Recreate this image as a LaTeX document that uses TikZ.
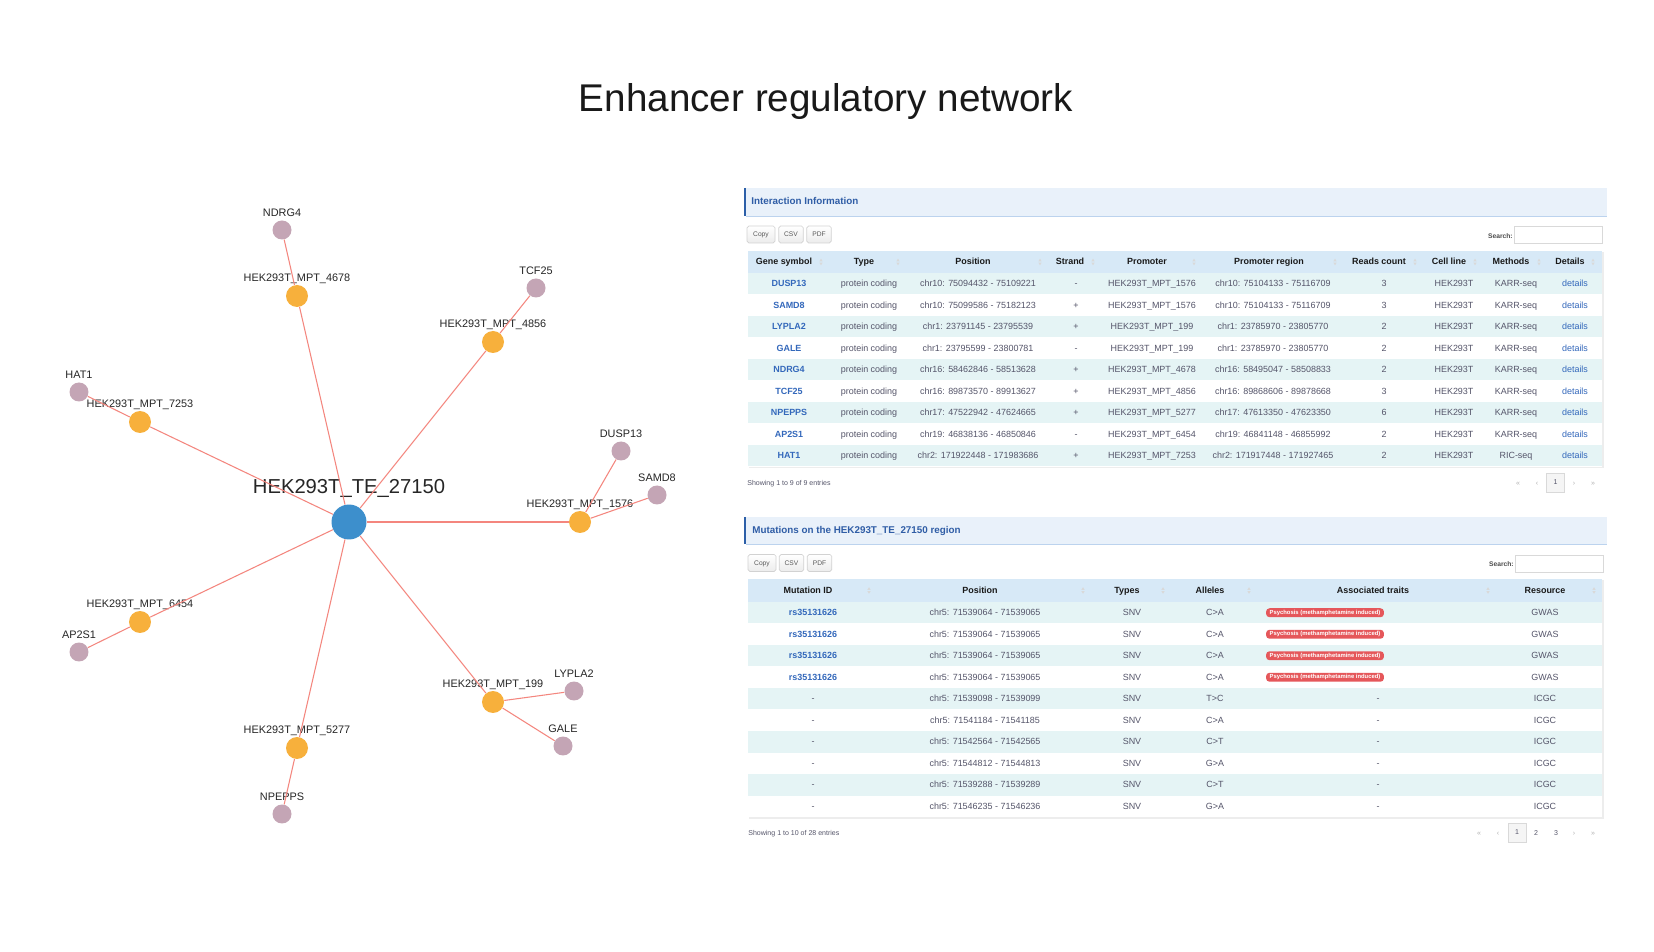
\documentclass[tikz,border=0pt]{standalone}
\usepackage{fontspec}
\setmainfont{Liberation Sans}
\usetikzlibrary{positioning}

\definecolor{hubblue}{HTML}{3D8FCC}
\definecolor{mptorange}{HTML}{F7B03C}
\definecolor{genemauve}{HTML}{C4A5B5}
\definecolor{edgered}{HTML}{F4867E}
\definecolor{barbg}{HTML}{E9F1FA}
\definecolor{barline}{HTML}{2C5FA8}
\definecolor{barrule}{HTML}{BCD3EE}
\definecolor{titleblue}{HTML}{2F5DA6}
\definecolor{headbg}{HTML}{D7E9F7}
\definecolor{stripe}{HTML}{E5F4F5}
\definecolor{linkblue}{HTML}{3368BB}
\definecolor{celltext}{HTML}{55556A}
\definecolor{badgered}{HTML}{E5575A}

\newcommand{\fsz}[1]{\fontsize{#1}{#1}\selectfont}

\tikzset{
  hub/.style={circle, fill=hubblue, minimum size=0.70cm, inner sep=0},
  mpt/.style={circle, fill=mptorange, minimum size=0.44cm, inner sep=0},
  gene/.style={circle, fill=genemauve, minimum size=0.38cm, inner sep=0},
  netlbl/.style={font=\fsz{6.2}, text=black!85, inner sep=0},
  link/.style={draw=edgered, line width=0.6pt},
  paneltitle/.style={anchor=west, font=\bfseries\fsz{5.6}, text=titleblue, inner sep=0,
    text height=4pt, text depth=0.6pt},
  btn/.style={draw=gray!35, top color=white, bottom color=gray!15, rounded corners=1pt,
    minimum height=0.34cm, inner sep=0, font=\fsz{3.8}, text=gray!70!black,
    text height=2.8pt, text depth=0.3pt},
  searchlbl/.style={anchor=east, font=\bfseries\fsz{3.8}, text=black!70, inner sep=0,
    text height=2.8pt, text depth=0.3pt},
  searchbox/.style={draw=gray!30, minimum width=1.76cm, minimum height=0.33cm, inner sep=0},
  colhead/.style={font=\bfseries\fsz{5.1}, text=black!90, inner sep=0,
    text height=3.7pt, text depth=0.4pt},
  cell/.style={font=\fsz{5.1}, text=celltext, inner sep=0, text height=3.7pt, text depth=0.4pt},
  cellink/.style={cell, font=\bfseries\fsz{5.1}, text=linkblue},
  info/.style={anchor=west, font=\fsz{4}, text=celltext, inner sep=0,
    text height=2.9pt, text depth=0.4pt},
  pg/.style={font=\fsz{4}, text=gray!60, inner sep=0, text height=2.9pt, text depth=0.4pt},
  pgbox/.style={draw=gray!30, fill=gray!8, minimum width=0.36cm, minimum height=0.38cm,
    inner sep=0, font=\fsz{4}, text=celltext, text height=2.9pt, text depth=0.4pt},
  badge/.style={fill=badgered, rounded corners=2pt, text=white, font=\bfseries\fsz{3.35},
    inner xsep=2pt, inner ysep=0, minimum height=0.18cm, text height=2.4pt, text depth=0.7pt},
  sorticon/.pic={
    \fill[gray!30] (-1.6,-0.7) -- (1.6,-0.7) -- (0,-3.3) -- cycle;
    \fill[gray!30] (-1.6,0.7) -- (1.6,0.7) -- (0,3.3) -- cycle;
  }
}

\begin{document}
\begin{tikzpicture}[x=0.02cm, y=-0.02cm]
  \fill[white] (0,0) rectangle (1654,952);
  \useasboundingbox (0,0) rectangle (1654,952);

  \node[font=\fsz{22}, text=black!90] (title) at (826,102) {Enhancer regulatory network};

  % network
  \node[hub] (te) at (349,522) {};
  \node[netlbl, font=\fsz{11.5}] (telbl) at (349,488) {HEK293T\_TE\_27150};

  \node[mpt] (m4678) at (297,296) {};
  \node[mpt] (m4856) at (493,342) {};
  \node[mpt] (m7253) at (140,422) {};
  \node[mpt] (m1576) at (580,522) {};
  \node[mpt] (m6454) at (140,622) {};
  \node[mpt] (m199)  at (493,702) {};
  \node[mpt] (m5277) at (297,748) {};

  \node[gene] (ndrg4)  at (282,230) {};
  \node[gene] (tcf25)  at (536,288) {};
  \node[gene] (hat1)   at (79,392) {};
  \node[gene] (dusp13) at (621,451) {};
  \node[gene] (samd8)  at (657,495) {};
  \node[gene] (ap2s1)  at (79,652) {};
  \node[gene] (lypla2) at (574,691) {};
  \node[gene] (gale)   at (563,746) {};
  \node[gene] (npepps) at (282,814) {};

  \node[netlbl, above=0.3pt of m4678] (m4678l) {HEK293T\_MPT\_4678};
  \node[netlbl, above=0.3pt of m4856] (m4856l) {HEK293T\_MPT\_4856};
  \node[netlbl, above=0.3pt of m7253] (m7253l) {HEK293T\_MPT\_7253};
  \node[netlbl, above=0.3pt of m1576] (m1576l) {HEK293T\_MPT\_1576};
  \node[netlbl, above=0.3pt of m6454] (m6454l) {HEK293T\_MPT\_6454};
  \node[netlbl, above=0.3pt of m199]  (m199l)  {HEK293T\_MPT\_199};
  \node[netlbl, above=0.3pt of m5277] (m5277l) {HEK293T\_MPT\_5277};

  \node[netlbl, above=2pt of ndrg4]  (ndrg4l)  {NDRG4};
  \node[netlbl, above=2pt of tcf25]  (tcf25l)  {TCF25};
  \node[netlbl, above=2pt of hat1]   (hat1l)   {HAT1};
  \node[netlbl, above=2pt of dusp13] (dusp13l) {DUSP13};
  \node[netlbl, above=2pt of samd8]  (samd8l)  {SAMD8};
  \node[netlbl, above=2pt of ap2s1]  (ap2s1l)  {AP2S1};
  \node[netlbl, above=2pt of lypla2] (lypla2l) {LYPLA2};
  \node[netlbl, above=2pt of gale]   (galel)   {GALE};
  \node[netlbl, above=2pt of npepps] (nppl)    {NPEPPS};

  \draw[link] (te) -- (m4678);
  \draw[link] (te) -- (m4856);
  \draw[link] (te) -- (m7253);
  \draw[link] (te) -- (m1576);
  \draw[link] (te) -- (m6454);
  \draw[link] (te) -- (m199);
  \draw[link] (te) -- (m5277);
  \draw[link] (m4678) -- (ndrg4);
  \draw[link] (m4856) -- (tcf25);
  \draw[link] (m7253) -- (hat1);
  \draw[link] (m1576) -- (dusp13);
  \draw[link] (m1576) -- (samd8);
  \draw[link] (m6454) -- (ap2s1);
  \draw[link] (m199) -- (lypla2);
  \draw[link] (m199) -- (gale);
  \draw[link] (m5277) -- (npepps);

  % interaction table
  \fill[barbg] (744,188) rectangle (1607,216);
  \draw[barline, line width=1.6pt] (745,188) -- (745,216);
  \draw[barrule] (746,216) -- (1607,216);
  \node[paneltitle] (t1title) at (751,202) {Interaction Information};

  \node[btn, minimum width=0.56cm] (t1copy) at (761,234.5) {Copy};
  \node[btn, minimum width=0.49cm] (t1csv) at (791,234.5) {CSV};
  \node[btn, minimum width=0.49cm] (t1pdf) at (819,234.5) {PDF};
  \node[searchlbl] (t1slbl) at (1513,236) {Search:};
  \node[searchbox] (t1sbox) at (1558,235) {};

  \fill[black!7] (749,252) rectangle (1603.5,468.5);
  \fill[white] (748,251) rectangle (1602,467);
  \fill[headbg] (748,251) rectangle (1602,273);
  \foreach \hx/\ix/\htxt [count=\j] in {784/821/Gene symbol, 864/898/Type, 973/1040/Position,
      1070/1093/Strand, 1147/1194/Promoter, 1269/1335/Promoter region, 1379/1415/Reads count,
      1449/1475/Cell line, 1511/1539/Methods, 1570/1593/Details}{
    \node[colhead] (t1h\j) at (\hx,262) {\htxt};
    \pic at (\ix,262) {sorticon};
  }
  \foreach \sym/\gpos/\strand/\mptno/\preg/\reads/\meth [count=\i] in {
      DUSP13/chr10: 75094432 - 75109221/-/1576/chr10: 75104133 - 75116709/3/KARR-seq,
      SAMD8/chr10: 75099586 - 75182123/+/1576/chr10: 75104133 - 75116709/3/KARR-seq,
      LYPLA2/chr1: 23791145 - 23795539/+/199/chr1: 23785970 - 23805770/2/KARR-seq,
      GALE/chr1: 23795599 - 23800781/-/199/chr1: 23785970 - 23805770/2/KARR-seq,
      NDRG4/chr16: 58462846 - 58513628/+/4678/chr16: 58495047 - 58508833/2/KARR-seq,
      TCF25/chr16: 89873570 - 89913627/+/4856/chr16: 89868606 - 89878668/3/KARR-seq,
      NPEPPS/chr17: 47522942 - 47624665/+/5277/chr17: 47613350 - 47623350/6/KARR-seq,
      AP2S1/chr19: 46838136 - 46850846/-/6454/chr19: 46841148 - 46855992/2/KARR-seq,
      HAT1/chr2: 171922448 - 171983686/+/7253/chr2: 171917448 - 171927465/2/RIC-seq}{
    \pgfmathsetmacro\ry{273+(\i-0.5)*21.5}
    \ifodd\i \fill[stripe] (748,\ry-10.75) rectangle (1602,\ry+10.75); \fi
    \node[cellink] (t1g\i) at (789,\ry) {\sym};
    \node[cell] (t1t\i) at (869,\ry) {protein coding};
    \node[cell] (t1p\i) at (978,\ry) {\gpos};
    \node[cell] (t1s\i) at (1076,\ry) {\strand};
    \node[cell] (t1m\i) at (1152,\ry) {HEK293T\_MPT\_\mptno};
    \node[cell] (t1r\i) at (1273,\ry) {\preg};
    \node[cell] (t1c\i) at (1384,\ry) {\reads};
    \node[cell] (t1l\i) at (1454,\ry) {HEK293T};
    \node[cell] (t1k\i) at (1516,\ry) {\meth};
    \node[cell, text=linkblue] (t1d\i) at (1575,\ry) {details};
  }
  \node[info] (t1info) at (747,483) {Showing 1 to 9 of 9 entries};
  \node[pg] (t1first) at (1518,483) {«};
  \node[pg] (t1prev) at (1537,483) {‹};
  \node[pgbox] (t1pg1) at (1555.5,482.5) {1};
  \node[pg] (t1next) at (1574,483) {›};
  \node[pg] (t1last) at (1593,483) {»};

  % mutation table
  \fill[barbg] (744,517) rectangle (1607,544);
  \draw[barline, line width=1.6pt] (745,517) -- (745,544);
  \draw[barrule] (746,544) -- (1607,544);
  \node[paneltitle] (t2title) at (752,531) {Mutations on the HEK293T\_TE\_27150 region};

  \node[btn, minimum width=0.56cm] (t2copy) at (762,563) {Copy};
  \node[btn, minimum width=0.49cm] (t2csv) at (791.5,563) {CSV};
  \node[btn, minimum width=0.49cm] (t2pdf) at (819.5,563) {PDF};
  \node[searchlbl] (t2slbl) at (1514,564) {Search:};
  \node[searchbox] (t2sbox) at (1559,564) {};

  \fill[black!7] (749,580) rectangle (1603.5,818.5);
  \fill[white] (748,579) rectangle (1602,817);
  \fill[headbg] (748,579) rectangle (1602,602);
  \foreach \hx/\ix/\htxt [count=\j] in {808/869/Mutation ID, 980/1083/Position, 1127/1163/Types,
      1210/1249/Alleles, 1373/1488/Associated traits, 1545/1594/Resource}{
    \node[colhead] (t2h\j) at (\hx,590.5) {\htxt};
    \pic at (\ix,590.5) {sorticon};
  }
  \foreach \i in {1,...,4}{
    \pgfmathsetmacro\ry{602+(\i-0.5)*21.5}
    \ifodd\i \fill[stripe] (748,\ry-10.75) rectangle (1602,\ry+10.75); \fi
    \node[cellink] (t2id\i) at (813,\ry) {rs35131626};
    \node[cell] (t2p\i) at (985,\ry) {chr5: 71539064 - 71539065};
    \node[cell] (t2t\i) at (1132,\ry) {SNV};
    \node[cell] (t2a\i) at (1215,\ry) {C>A};
    \node[badge] (t2b\i) at (1325,\ry) {Psychosis (methamphetamine induced)};
    \node[cell] (t2r\i) at (1545,\ry) {GWAS};
  }
  \foreach \gpos/\allele [count=\k from 5] in {71539098 - 71539099/T>C, 71541184 - 71541185/C>A,
      71542564 - 71542565/C>T, 71544812 - 71544813/G>A, 71539288 - 71539289/C>T,
      71546235 - 71546236/G>A}{
    \pgfmathsetmacro\ry{602+(\k-0.5)*21.5}
    \ifodd\k \fill[stripe] (748,\ry-10.75) rectangle (1602,\ry+10.75); \fi
    \node[cell] (t2id\k) at (813,\ry) {-};
    \node[cell] (t2p\k) at (985,\ry) {chr5: \gpos};
    \node[cell] (t2t\k) at (1132,\ry) {SNV};
    \node[cell] (t2a\k) at (1215,\ry) {\allele};
    \node[cell] (t2b\k) at (1378,\ry) {-};
    \node[cell] (t2r\k) at (1545,\ry) {ICGC};
  }
  \node[info] (t2info) at (748,833) {Showing 1 to 10 of 28 entries};
  \node[pg] (t2first) at (1479,833) {«};
  \node[pg] (t2prev) at (1498,833) {‹};
  \node[pgbox] (t2pg1) at (1517,832.5) {1};
  \node[pg, text=celltext] (t2pg2) at (1536,833) {2};
  \node[pg, text=celltext] (t2pg3) at (1556,833) {3};
  \node[pg] (t2next) at (1574,833) {›};
  \node[pg] (t2last) at (1593,833) {»};
\end{tikzpicture}
\end{document}
